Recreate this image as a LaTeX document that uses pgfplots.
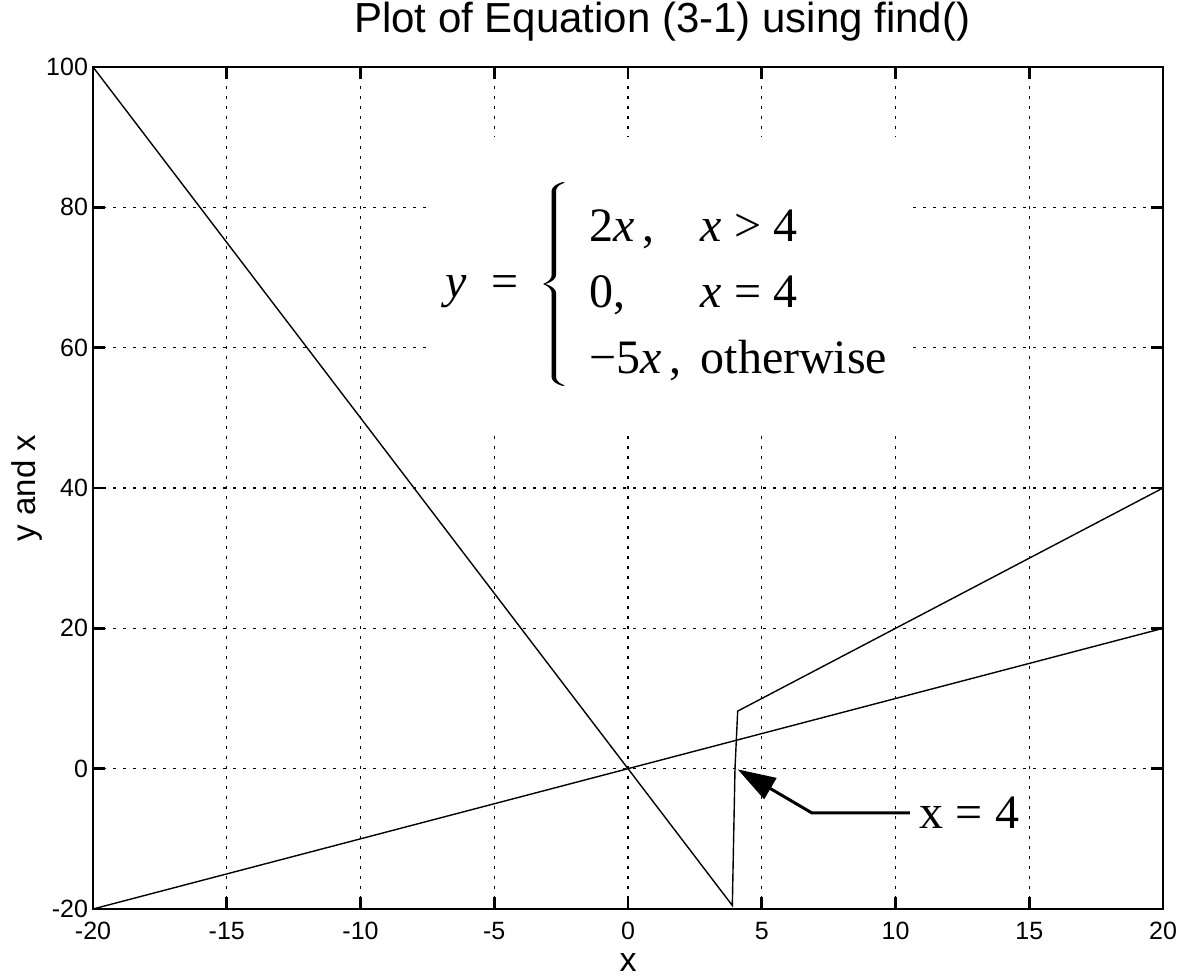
\documentclass[border=0pt]{standalone}
\usepackage{graphicx}
\usepackage{pgfplots}
\pgfplotsset{compat=1.18}
\usepackage{fontspec}
\setmainfont{Liberation Sans}
\newfontfamily\timesfont{Liberation Serif}
\usetikzlibrary{arrows.meta}

\begin{document}
\begin{tikzpicture}
\useasboundingbox (-46.5pt,-33.5pt) rectangle (544.5pt,454.5pt);
\begin{axis}[
  scale only axis,
  width=535pt, height=421pt,
  xmin=-20, xmax=20, ymin=-20, ymax=100,
  xtick={-20,-15,...,20},
  ytick={-20,0,...,100},
  grid=major,
  major grid style={black, line width=0.6pt, dash pattern=on 1.6pt off 3.4pt},
  axis line style={black, line width=1.3pt},
  tick style={black, line width=1.3pt},
  major tick length=6pt,
  tick align=inside,
  /pgf/number format/assume math mode=true,
  ticklabel style={font=\fontsize{12.5}{15}\selectfont},
  xticklabel style={yshift=-3pt},
  yticklabel style={xshift=1pt},
  title={Plot of Equation (3-1) using find()},
  title style={at={(axis description cs:0.532,1.0273)}, anchor=base, yshift=0pt,
    font=\fontsize{21}{25}\selectfont},
  xlabel={x},
  xlabel style={at={(axis description cs:0.5,-0.0745)}, anchor=base,
    font=\fontsize{17}{20}\selectfont},
  ylabel={y and x},
  ylabel style={at={(axis description cs:-0.0542,0.5)}, anchor=base, rotate=0,
    font=\fontsize{16.5}{20}\selectfont},
  clip=false,
]
% white panel behind the equation
\fill[white] (axis cs:-7.51,48.3) rectangle (axis cs:10.6,90);

% y = x
\addplot[black, line width=0.7pt] coordinates {(-20,-20) (20,20)};
% piecewise y computed with find()
\addplot[black, line width=0.7pt] coordinates {
  (-20,100) (3.9,-19.5) (4,0) (4.1,8.2) (20,40)};

% equation: y = { cases }
\begin{scope}[every node/.style={inner sep=0, font=\timesfont\fontsize{24}{33}\selectfont}]
\node[anchor=base west] at (axis cs:-6.85,67.2) {\textit{y}};
\node[anchor=base west] at (axis cs:-5.1,67.2) {=};
\node[anchor=center] at (axis cs:-2.77,68.93)
  {\scalebox{1.9}[1]{$\nulldelimiterspace=0pt\left\{\vrule height 59pt depth 47pt width 0pt\right.$}};
\node[anchor=base west] at (axis cs:-1.46,75.06)
  {\begin{tabular}[t]{@{}l@{\hspace{9.5pt}}l@{}}
   2\textit{x}\,, & \textit{x} > 4\\
   0, & \textit{x} = 4\\
   −5\textit{x}\,, & otherwise
  \end{tabular}};
\end{scope}

% annotation of the point x = 4
\draw[black, line width=1.5pt, -{Triangle[length=19pt,width=12pt]}]
  (axis cs:10.54,-6.3) -- (axis cs:6.87,-6.3) -- (axis cs:4.1,-0.1);
\node[anchor=west, inner sep=0, font=\timesfont\fontsize{24}{28}\selectfont]
  at (axis cs:10.9,-6.3) {x = 4};
\end{axis}
\end{tikzpicture}
\end{document}
